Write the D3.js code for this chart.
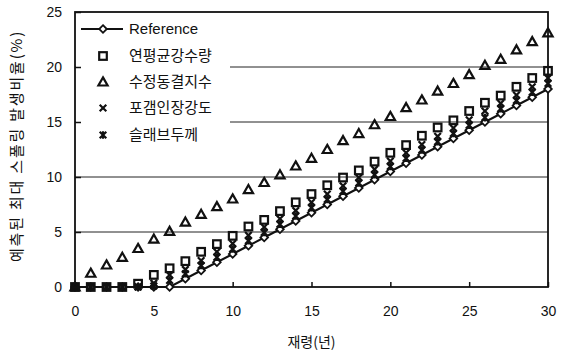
<!DOCTYPE html>
<html>
<head>
<meta charset="utf-8">
<script src="https://cdn.jsdelivr.net/npm/d3@7"></script>
<style>
  body { margin: 0; background: #fff; }
  text { fill: #111; }
</style>
</head>
<body>
<svg id="chart" width="564" height="357"></svg>
<script>
// Age in years
const years = d3.range(0, 31);

// Predicted maximum spalling ratio (%) per case
const reference = [0, 0, 0, 0, 0, 0, 0, 0.75, 1.5, 2.25, 3.0, 3.75, 4.5, 5.25, 6.0, 6.75, 7.5, 8.25, 9.0, 9.75, 10.5, 11.25, 12.0, 12.75, 13.5, 14.25, 15.0, 15.75, 16.5, 17.25, 18.0];
const rainfall = [0, 0, 0, 0, 0.3, 1.1, 1.7, 2.35, 3.2, 3.9, 4.65, 5.5, 6.1, 6.9, 7.7, 8.45, 9.25, 9.95, 10.6, 11.4, 12.2, 12.9, 13.75, 14.5, 15.15, 16.0, 16.75, 17.4, 18.2, 19.0, 19.65];
const freezeIndex = [0, 1.25, 2.0, 2.7, 3.5, 4.35, 5.05, 5.9, 6.6, 7.3, 8.0, 8.85, 9.5, 10.2, 11.0, 11.7, 12.5, 13.3, 13.95, 14.75, 15.5, 16.3, 17.0, 17.8, 18.5, 19.3, 20.15, 20.7, 21.55, 22.3, 23.1];
const tensileStrength = [0, 0, 0, 0, 0, 0.35, 1.1, 1.6, 2.4, 3.2, 3.95, 4.7, 5.45, 6.2, 6.95, 7.7, 8.45, 9.2, 9.95, 10.7, 11.45, 12.2, 12.95, 13.7, 14.45, 15.2, 16.0, 16.7, 17.45, 18.2, 19.0];
const slabThickness = [0, 0, 0, 0, 0, 0.1, 0.6, 1.2, 1.95, 2.7, 3.45, 4.2, 4.95, 5.7, 6.45, 7.2, 7.95, 8.7, 9.45, 10.2, 10.95, 11.7, 12.45, 13.2, 13.95, 14.7, 15.4, 16.2, 16.95, 17.7, 18.5];

const seriesNames = ["Reference", "연평균강수량", "수정동결지수", "포갬인장강도", "슬래브두께"];
const xTicks = [0, 5, 10, 15, 20, 25, 30];
const yTicks = [0, 5, 10, 15, 20, 25];
const gridValues = [5, 10, 15, 20];

const svg = d3.select("#chart");
const x = d3.scaleLinear().domain([0, 30]).range([75, 548]);
const y = d3.scaleLinear().domain([0, 25]).range([287, 12]);

const latin = "'Liberation Sans', Arial, sans-serif";
const hangul = "'Noto Sans CJK KR', 'Noto Sans', sans-serif";

// horizontal grid
svg.append("g").selectAll("line").data(gridValues).join("line")
  .attr("x1", x(0)).attr("x2", x(30))
  .attr("y1", d => y(d)).attr("y2", d => y(d))
  .attr("stroke", "#222").attr("stroke-width", 1);

// legend background hides the grid behind it
svg.append("rect").attr("x", 76).attr("y", 13).attr("width", 154).attr("height", 145).attr("fill", "#fff");

// axes
const xAxis = svg.append("g").attr("transform", `translate(0,${y(0)})`)
  .call(d3.axisBottom(x).tickValues(xTicks).tickSizeInner(-5).tickSizeOuter(0).tickPadding(19));
const yAxis = svg.append("g").attr("transform", `translate(${x(0)},0)`)
  .call(d3.axisLeft(y).tickValues(yTicks).tickSizeInner(-6).tickSizeOuter(0).tickPadding(13));
[xAxis, yAxis].forEach(g => {
  g.select(".domain").remove();
  g.selectAll("line").attr("stroke", "#111").attr("stroke-width", 1.5);
  g.selectAll("text").attr("font-family", latin).attr("font-size", 14).style("fill", "#111");
});

// plot frame
svg.append("rect").attr("x", x(0)).attr("y", y(25))
  .attr("width", x(30) - x(0)).attr("height", y(0) - y(25))
  .attr("fill", "none").attr("stroke", "#111").attr("stroke-width", 1.8);

// marker shapes
function drawMarker(g, kind, cx, cy) {
  if (kind === "diamond") {
    g.append("path").attr("d", `M${cx},${cy - 3.8}L${cx + 3.8},${cy}L${cx},${cy + 3.8}L${cx - 3.8},${cy}Z`)
      .attr("fill", "#fff").attr("stroke", "#111").attr("stroke-width", 1.8);
  } else if (kind === "square") {
    g.append("rect").attr("x", cx - 3.8).attr("y", cy - 3.8).attr("width", 7.6).attr("height", 7.6)
      .attr("fill", "none").attr("stroke", "#111").attr("stroke-width", 2.2);
  } else if (kind === "triangle") {
    g.append("path").attr("d", `M${cx},${cy - 4.6}L${cx + 4.6},${cy + 3.5}L${cx - 4.6},${cy + 3.5}Z`)
      .attr("fill", "none").attr("stroke", "#111").attr("stroke-width", 2.2);
  } else if (kind === "cross") {
    g.append("path").attr("d", `M${cx - 3.3},${cy - 3.3}L${cx + 3.3},${cy + 3.3}M${cx + 3.3},${cy - 3.3}L${cx - 3.3},${cy + 3.3}`)
      .attr("stroke", "#111").attr("stroke-width", 2.2).attr("fill", "none");
  } else if (kind === "star") {
    g.append("path").attr("d", `M${cx - 3.3},${cy - 3.3}L${cx + 3.3},${cy + 3.3}M${cx + 3.3},${cy - 3.3}L${cx - 3.3},${cy + 3.3}M${cx},${cy - 3.8}L${cx},${cy + 3.8}`)
      .attr("stroke", "#111").attr("stroke-width", 2.2).attr("fill", "none");
  }
}

// reference line
const line = d3.line().x((d, i) => x(years[i])).y(d => y(d));
svg.append("path").datum(reference).attr("d", line)
  .attr("fill", "none").attr("stroke", "#111").attr("stroke-width", 2);

const marks = svg.append("g");
const layers = [
  { data: reference, kind: "diamond" },
  { data: slabThickness, kind: "star" },
  { data: tensileStrength, kind: "cross" },
  { data: rainfall, kind: "square" },
  { data: freezeIndex, kind: "triangle" }
];
layers.forEach(s => {
  s.data.forEach((v, i) => drawMarker(marks, s.kind, x(years[i]), y(v)));
});

// legend
const legend = svg.append("g");
const legendKinds = ["diamond", "square", "triangle", "cross", "star"];
const rowY = [29, 56, 82, 108, 135];
seriesNames.forEach((name, i) => {
  const cy = rowY[i];
  if (i === 0) {
    legend.append("line").attr("x1", 81).attr("x2", 123).attr("y1", cy).attr("y2", cy)
      .attr("stroke", "#111").attr("stroke-width", 2);
  }
  drawMarker(legend, legendKinds[i], 103, cy);
  legend.append("text").attr("x", 129).attr("y", cy).attr("dy", "0.36em")
    .attr("font-family", i === 0 ? latin : hangul).attr("font-size", 15)
    .text(name);
});

// axis titles
svg.append("text").attr("x", (x(0) + x(30)) / 2).attr("y", 342).attr("dy", "0.35em")
  .attr("text-anchor", "middle").attr("font-family", hangul).attr("font-size", 14)
  .text("재령(년)");
svg.append("text").attr("transform", "translate(17,146) rotate(-90)")
  .attr("dy", "0.35em").attr("text-anchor", "middle").attr("font-family", hangul)
  .attr("font-size", 15).attr("letter-spacing", 1.8)
  .text("예측된 최대 스폴링 발생비율(%)");
</script>
</body>
</html>
